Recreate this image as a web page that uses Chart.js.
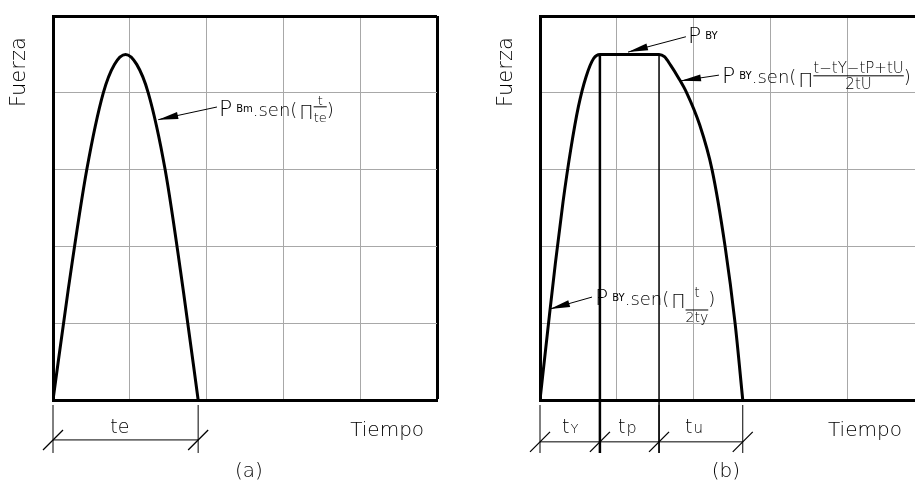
<!DOCTYPE html>
<html>
<head>
<meta charset="utf-8">
<script src="https://cdn.jsdelivr.net/npm/chart.js@4.4.0/dist/chart.umd.min.js"></script>
<style>
  html, body { margin: 0; padding: 0; background: #fff; overflow: hidden; width: 915px; height: 484px; }
  canvas { position: absolute; top: 0; }
  #chart-a { left: 0; }
  #chart-b { left: 480px; }
</style>
</head>
<body>
<canvas id="chart-a" width="460" height="484"></canvas>
<canvas id="chart-b" width="460" height="484"></canvas>
<script>
// --- DATA (time and force in grid units) ---
const timeA = [0, 0.2, 0.44, 0.655, 0.8, 0.945, 1.09, 1.24, 1.46, 1.7, 1.89];
const forceA = [0, 1.45, 3, 4, 4.37, 4.5, 4.37, 4, 3, 1.4, 0];

const timeB = [0, 0.1, 0.2, 0.3, 0.4, 0.5, 0.6, 0.7, 0.78, 1.55, 1.62, 1.7, 1.8, 1.91, 2.08, 2.24, 2.41, 2.54, 2.64];
const forceB = [0, 0.9, 1.78, 2.58, 3.26, 3.82, 4.21, 4.45, 4.5, 4.5, 4.47, 4.36, 4.2, 4, 3.58, 3, 2, 1, 0];

const dimA = [0, 1.89];              // te
const dimB = [0, 0.78, 1.55, 2.64];  // tY, tp, tu
const peakB = 4.5;
const dimBottom = -0.69;

const AXIS_MAX = 5;
const FONT = '"DejaVu Sans"';
const INK = '#000';

function font(size, weight) { return `${weight || 200} ${size}px ${FONT}`; }

// --- DRAWING HELPERS ---
function line(ctx, x1, y1, x2, y2) {
    ctx.beginPath(); ctx.moveTo(x1, y1); ctx.lineTo(x2, y2); ctx.stroke();
}

function arrow(ctx, x1, y1, x2, y2) {
    const a = Math.atan2(y2 - y1, x2 - x1), L = 20, W = 3.5;
    ctx.lineWidth = 1;
    line(ctx, x1, y1, x2, y2);
    ctx.beginPath();
    ctx.moveTo(x2, y2);
    ctx.lineTo(x2 - L * Math.cos(a) + W * Math.sin(a), y2 - L * Math.sin(a) - W * Math.cos(a));
    ctx.lineTo(x2 - L * Math.cos(a) - W * Math.sin(a), y2 - L * Math.sin(a) + W * Math.cos(a));
    ctx.closePath();
    ctx.fill();
}

function richText(ctx, x, y, segs) {
    let cx = x;
    segs.forEach(s => {
        cx += s.gap || 0;
        ctx.font = font(s.size, s.weight);
        if (s.num !== undefined) {
            const wn = ctx.measureText(s.num).width, wd = ctx.measureText(s.den).width;
            const w = Math.max(wn, wd);
            ctx.fillText(s.num, cx + (w - wn) / 2, y + s.numY);
            ctx.fillText(s.den, cx + (w - wd) / 2, y + s.denY);
            ctx.lineWidth = 1;
            line(ctx, cx, y + s.barY, cx + w, y + s.barY);
            cx += w;
        } else {
            ctx.fillText(s.text, cx, y + (s.dy || 0));
            cx += ctx.measureText(s.text).width;
        }
    });
}

function dimension(ctx, X, Y, marks, yLine) {
    ctx.lineWidth = 1;
    marks.forEach(m => line(ctx, X(m), Y(-0.065), X(m), Y(dimBottom)));
    line(ctx, X(marks[0]), Y(yLine), X(marks[marks.length - 1]), Y(yLine));
    ctx.lineWidth = 1.3;
    marks.forEach(m => line(ctx, X(m) - 10, Y(yLine) + 10, X(m) + 10, Y(yLine) - 10));
}

function axisWords(ctx, X, Y, tiempoX, tag, tagX) {
    ctx.font = font(21);
    ctx.save();
    ctx.translate(X(-0.44), Y(4.27));
    ctx.rotate(-Math.PI / 2);
    ctx.textAlign = 'center';
    ctx.textBaseline = 'middle';
    ctx.fillText('Fuerza', 0, 0);
    ctx.restore();
    ctx.font = font(20);
    ctx.fillText('Tiempo', X(tiempoX), Y(-0.47));
    ctx.textAlign = 'center';
    ctx.fillText(tag, X(tagX), Y(-1.0));
    ctx.textAlign = 'left';
}

const SUB = { size: 10, dy: -4, gap: 4, weight: 400 };

// --- ANNOTATIONS ---
function notesA(ctx, X, Y) {
    axisWords(ctx, X, Y, 3.87, '(a)', 2.55);
    arrow(ctx, X(2.135), Y(3.815), X(1.37), Y(3.65));
    richText(ctx, X(2.16), Y(3.70), [
        { text: 'P', size: 22 },
        Object.assign({ text: 'Bm' }, SUB),
        { text: '.sen(', size: 18 },
        { text: 'Π', size: 19, dy: 3, gap: 2 },
        { num: 't', den: 'te', size: 13, numY: -11, barY: -9, denY: 6 },
        { text: ')', size: 18 }
    ]);
    dimension(ctx, X, Y, dimA, -0.52);
    ctx.font = font(19);
    ctx.fillText('te', X(0.745), Y(-0.43));
}

function notesB(ctx, X, Y) {
    axisWords(ctx, X, Y, 3.75, '(b)', 2.42);
    arrow(ctx, X(1.90), Y(4.73), X(1.146), Y(4.53));
    richText(ctx, X(1.927), Y(4.65), [
        { text: 'P', size: 22 },
        Object.assign({ text: 'BY' }, SUB)
    ]);
    arrow(ctx, X(2.33), Y(4.23), X(1.836), Y(4.156));
    richText(ctx, X(2.37), Y(4.13), [
        { text: 'P', size: 22 },
        Object.assign({ text: 'BY' }, SUB),
        { text: '.sen(', size: 18 },
        { text: 'Π', size: 20, dy: 4, gap: 2 },
        { num: 't−tY−tP+tU', den: '2tU', size: 15, numY: -10, barY: -7, denY: 6 },
        { text: ')', size: 18 }
    ]);
    arrow(ctx, X(0.677), Y(1.34), X(0.13), Y(1.185));
    richText(ctx, X(0.716), Y(1.237), [
        { text: 'P', size: 22 },
        Object.assign({ text: 'BY' }, SUB),
        { text: '.sen(', size: 18 },
        { text: 'Π', size: 19, dy: 3, gap: 2 },
        { num: 't', den: '2ty', size: 14, numY: -8, barY: 5, denY: 17 },
        { text: ')', size: 18 }
    ]);
    dimension(ctx, X, Y, dimB, -0.545);
    richText(ctx, X(0.286), Y(-0.43), [{ text: 't', size: 19 }, { text: 'Y', size: 13, gap: 1 }]);
    richText(ctx, X(1.016), Y(-0.43), [{ text: 't', size: 19 }, { text: 'p', size: 16, gap: 1 }]);
    richText(ctx, X(1.888), Y(-0.43), [{ text: 't', size: 19 }, { text: 'u', size: 15, gap: 1 }]);
}

// --- CHART FACTORY ---
function makeChart(canvasId, times, forces, pad, extraSets, notes) {
    const curve = {
        data: times.map((t, i) => ({ x: t, y: forces[i] })),
        showLine: true,
        borderColor: '#000',
        borderWidth: 3,
        pointRadius: 0,
        cubicInterpolationMode: 'monotone'
    };
    const gridOpts = {
        color: c => c.tick.value === AXIS_MAX ? '#000' : '#a8a8a8',
        lineWidth: c => c.tick.value === AXIS_MAX ? 3 : 1,
        drawTicks: false
    };
    const notesPlugin = {
        id: 'notes',
        afterDraw(chart) {
            const ctx = chart.ctx;
            const X = v => chart.scales.x.getPixelForValue(v);
            const Y = v => chart.scales.y.getPixelForValue(v);
            ctx.save();
            ctx.fillStyle = INK;
            ctx.strokeStyle = INK;
            ctx.textBaseline = 'alphabetic';
            notes(ctx, X, Y);
            ctx.restore();
        }
    };
    return new Chart(document.getElementById(canvasId), {
        type: 'scatter',
        data: { datasets: [curve, ...extraSets] },
        options: {
            responsive: false,
            animation: false,
            events: [],
            layout: { padding: pad },
            plugins: { legend: { display: false }, tooltip: { enabled: false } },
            scales: {
                x: {
                    type: 'linear', min: 0, max: AXIS_MAX,
                    ticks: { display: false, stepSize: 1 },
                    grid: gridOpts,
                    border: { color: '#000', width: 3 }
                },
                y: {
                    type: 'linear', min: 0, max: AXIS_MAX,
                    ticks: { display: false, stepSize: 1 },
                    grid: gridOpts,
                    border: { color: '#000', width: 3 }
                }
            }
        },
        plugins: [notesPlugin]
    });
}

function stem(x, width) {
    return {
        data: [{ x: x, y: peakB }, { x: x, y: dimBottom }],
        showLine: true,
        borderColor: '#000',
        borderWidth: width,
        pointRadius: 0,
        clip: false
    };
}

makeChart('chart-a', timeA, forceA, { left: 53, top: 16, right: 23, bottom: 84 }, [], notesA);
makeChart('chart-b', timeB, forceB, { left: 60, top: 16, right: 16, bottom: 84 },
    [stem(dimB[1], 2.5), stem(dimB[2], 1.5)], notesB);
</script>
</body>
</html>
